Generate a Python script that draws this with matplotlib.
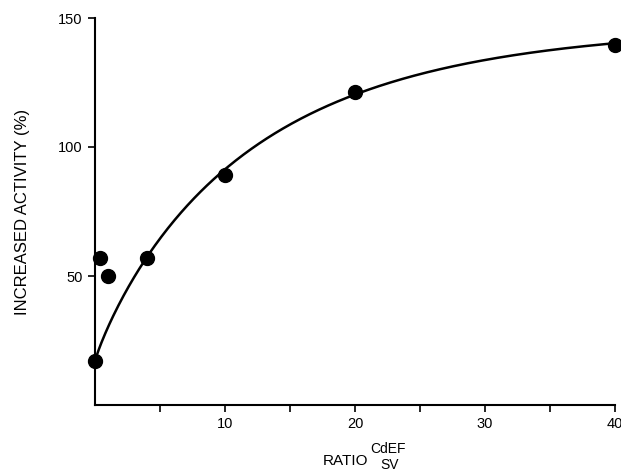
import numpy as np
import matplotlib
matplotlib.use("Agg")
import matplotlib.pyplot as plt

plt.rcParams['font.family'] = ['Liberation Sans', 'DejaVu Sans']

# Measured points (ratio CdEF/SV, increased activity %)
ratio = [0.0, 0.35, 1.0, 4.0, 10.0, 20.0, 40.0]
activity = [17, 57, 50, 57, 89, 121.5, 139.5]

# Fitted saturation curve parameters: y = base + amp*(1-exp(-(x/scale)**power))
curve_base = 17.0
curve_amp = 130.0
curve_scale = 12.0
curve_power = 0.9

x_ticks_major = [10, 20, 30, 40]
x_ticks_minor = [5, 15, 25, 35]
y_ticks = [50, 100, 150]

fig = plt.figure(figsize=(6.21, 4.72), dpi=100)
ax = fig.add_axes([95/621, 1-405/472, (615-95)/621, (405-18)/472])

xc = np.linspace(0, 40, 400)
yc = curve_base + curve_amp*(1-np.exp(-(xc/curve_scale)**curve_power))
ax.plot(xc, yc, color='black', lw=1.8, clip_on=False, zorder=2)
ax.plot(ratio, activity, 'o', color='black', ms=10, clip_on=False, zorder=3)

ax.set_xlim(0, 40)
ax.set_ylim(0, 150)
for s in ['top', 'right']:
    ax.spines[s].set_visible(False)
for s in ['left', 'bottom']:
    ax.spines[s].set_linewidth(1.5)

ax.set_xticks(x_ticks_major)
ax.set_xticks(x_ticks_minor, minor=True)
ax.set_yticks(y_ticks)
ax.tick_params(axis='both', which='both', direction='out', width=1.2, length=5,
               labelsize=10.5, pad=4)
ax.set_ylabel('INCREASED ACTIVITY (%)', fontsize=12, labelpad=20)

fig.text(346/621, 1-461/472, 'RATIO', fontsize=11, ha='center', va='center')
fig.text(388/621, 1-449/472, 'CdEF', fontsize=10, ha='center', va='center')
fig.text(390/621, 1-465/472, 'SV', fontsize=10, ha='center', va='center')

fig.savefig('out.png', dpi=100)
